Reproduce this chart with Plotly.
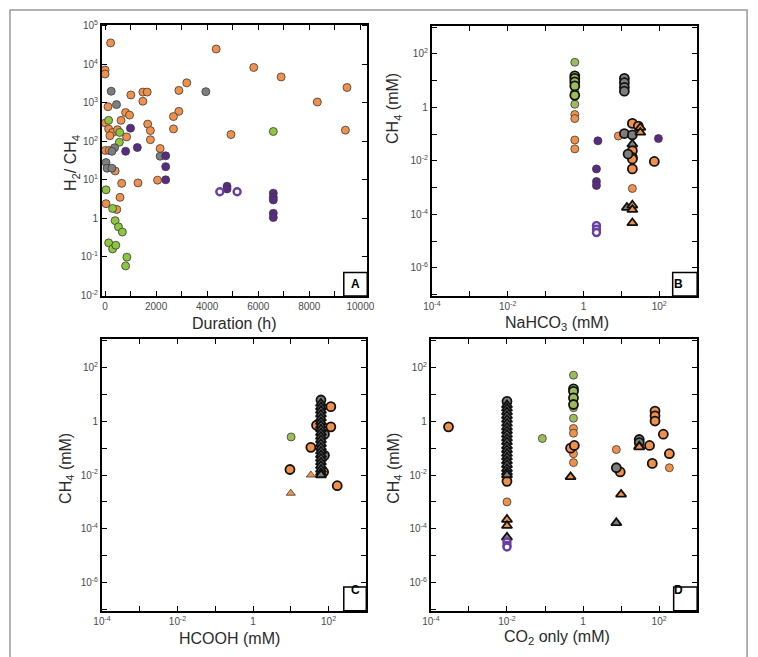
import plotly.graph_objects as go

W, H = 758, 657

# ---------------- DATA ----------------
# Panel A : H2/CH4 vs duration (h)
A_orange_x = [217, 0, 0, 115, 1010, 1480, 1650, 1480, 2890, 3200, 2890, 2680, 2680, 1670, 1775, 1775,
              805, 958, 625, 13, 141, 295, 487, 843, 190, 13, 166, 2157, 395, 651, 1290, 2056, 586,
              38, 460, 4352, 4931, 5824, 6897, 8314, 9475, 9413]
A_orange_y = [3.6e4, 7.1e3, 5.6e3, 7.9e2, 1.6e3, 1.9e3, 1.9e3, 1.1e3, 2.1e3, 3.3e3, 6.0e2, 4.4e2, 2.1e2, 2.8e2, 1.9e2, 1.1e2,
              5.6e2, 4.8e2, 3.5e2, 3.0e2, 2.1e2, 1.7e2, 2.0e2, 1.3e2, 1.4e2, 5.8e1, 5.8e1, 6.5e1, 1.7e1, 8.1, 8.3, 9.8, 3.5,
              2.4, 1.7, 2.5e4, 1.5e2, 8.3e3, 4.7e3, 1.05e3, 2.5e3, 1.95e2]
A_green_x = [140, 575, 560, 38, 295, 395, 525, 678, 141, 295, 421, 855, 805, 6590]
A_green_y = [3.5e2, 1.7e2, 9.5e1, 5.5, 1.8, 0.87, 0.60, 0.44, 0.23, 0.16, 0.20, 0.098, 0.058, 1.8e2]
A_gray_x = [241, 448, 372, 268, 38, 77, 268, 3946, 2157]
A_gray_y = [2.0e3, 9.0e2, 6.8e1, 5.5e1, 2.8e1, 2.0e1, 2.0e1, 1.95e3, 4.1e1]
A_purple_x = [996, 805, 1264, 2375, 2375, 2375, 4778, 4778, 6590, 6590, 6590, 6590, 6590]
A_purple_y = [2.2e2, 5.5e1, 6.9e1, 4.2e1, 2.2e1, 1.0e1, 6.8, 5.8, 4.5, 3.5, 3.0, 1.35, 1.05]
A_open_x = [4494, 5172]
A_open_y = [4.9, 4.9]

# Panel B : CH4 vs NaHCO3 (mM)
B_green_thin_x = [0.59, 0.59, 0.59]
B_green_thin_y = [48, 3.8, 1.3]
B_green_bold_x = [0.59, 0.59, 0.59, 0.59, 0.59]
B_green_bold_y = [15, 12, 8.9, 6.3, 2.8]
B_orange_thin_x = [0.59, 0.59, 0.59, 0.59, 8.3, 19.5]
B_orange_thin_y = [0.54, 0.38, 0.060, 0.028, 0.085, 9.3e-4]
B_purple_x = [2.4, 2.2, 2.2, 2.2, 95]
B_purple_y = [0.056, 5.0e-3, 1.7e-3, 1.2e-3, 0.068]
B_open_x = [2.2, 2.2, 2.2]
B_open_y = [3.8e-5, 2.8e-5, 2.1e-5]
B_gray_bold_x = [12, 12, 12, 12, 12, 19.5, 15]
B_gray_bold_y = [12, 8.3, 5.6, 4.0, 0.105, 0.093, 0.018]
B_gray_tri_x = [19.5, 14]
B_gray_tri_y = [0.042, 1.8e-4]
B_orange_bold_x = [19.5, 28, 19.5, 19.5, 19.5, 19.5, 74]
B_orange_bold_y = [0.25, 0.20, 0.024, 0.0135, 0.0117, 5.0e-3, 9.5e-3]
B_orange_tri_x = [31.6, 31.6, 19.5, 19.5, 19.5]
B_orange_tri_y = [0.174, 0.115, 2.2e-4, 1.5e-4, 4.8e-5]

# Panel C : CH4 vs HCOOH (mM)
C_green_x = [10.2]
C_green_y = [0.26]
C_orange_tri_x = [10, 34]
C_orange_tri_y = [2.1e-3, 0.010]
C_orange_bold_x = [9.5, 34, 48, 115, 115, 170, 74]
C_orange_bold_y = [0.016, 0.107, 0.71, 3.5, 0.62, 4.0e-3, 0.013]
C_gray_bold_x = [63, 78, 78]
C_gray_bold_y = [6.2, 0.33, 0.054]
C_gray_tri_x = [63, 63, 63, 63, 63, 63, 63, 63, 63, 63, 63, 63, 63, 63, 63, 63, 63, 63, 63, 63, 63]
C_gray_tri_y = [4.6, 3.4, 2.5, 1.8, 1.3, 0.95, 0.70, 0.51, 0.37, 0.27, 0.20, 0.145, 0.105, 0.077,
                0.056, 0.041, 0.030, 0.022, 0.016, 0.012, 0.010]

# Panel D : CH4 vs CO2 only (mM)
D_gray_bold_x = [0.01, 7.5, 30, 30]
D_gray_bold_y = [5.5, 0.0186, 0.21, 0.16]
D_gray_tri_x = [0.01, 0.01, 0.01, 0.01, 0.01, 0.01, 0.01, 0.01, 0.01, 0.01, 0.01, 0.01, 0.01, 0.01,
                0.01, 0.01, 0.01, 0.01, 0.01, 0.01, 0.01, 7.5, 30]
D_gray_tri_y = [4.0, 3.0, 2.2, 1.6, 1.15, 0.83, 0.60, 0.44, 0.32, 0.23, 0.17, 0.12, 0.087, 0.063,
                0.046, 0.033, 0.024, 0.017, 0.0126, 0.010, 4.8e-5, 1.66e-4, 0.117]
D_orange_bold_x = [2.9e-4, 0.01, 0.47, 0.59, 9.5, 56, 78, 78, 78, 129, 66, 186]
D_orange_bold_y = [0.62, 5.8e-3, 0.10, 0.126, 0.013, 0.126, 2.4, 1.6, 1.02, 0.33, 0.027, 0.062]
D_orange_thin_x = [0.01, 0.56, 0.56, 0.56, 0.56, 7.5, 186]
D_orange_thin_y = [1.0e-3, 0.54, 0.36, 0.062, 0.029, 0.089, 0.0186]
D_orange_tri_x = [0.01, 0.01, 0.47, 10, 30]
D_orange_tri_y = [2.2e-4, 1.3e-4, 8.5e-3, 1.9e-3, 0.11]
D_open_x = [0.01, 0.01, 0.01]
D_open_y = [3.2e-5, 2.4e-5, 2.1e-5]
D_green_thin_x = [0.085, 0.56, 0.56, 0.56]
D_green_thin_y = [0.23, 52, 3.2, 1.3]
D_green_bold_x = [0.56, 0.56, 0.56, 0.56]
D_green_bold_y = [16, 13, 7.4, 4.2]

# tick labels
A_xticks = [0, 2000, 4000, 6000, 8000, 10000]
A_xtext = ["0", "2000", "4000", "6000", "8000", "10000"]
A_xminor = [1000, 3000, 5000, 7000, 9000]
A_yticks = [1e-2, 1e-1, 1, 1e1, 1e2, 1e3, 1e4, 1e5]
A_ytext = ["10<sup>-2</sup>", "10<sup>-1</sup>", "1", "10<sup>1</sup>", "10<sup>2</sup>",
           "10<sup>3</sup>", "10<sup>4</sup>", "10<sup>5</sup>"]
L_xticks = [1e-4, 1e-2, 1, 1e2]
L_xtext = ["10<sup>-4</sup>", "10<sup>-2</sup>", "1", "10<sup>2</sup>"]
L_xminor = [1e-3, 1e-1, 1e1, 1e3]
L_yticks = [1e-6, 1e-4, 1e-2, 1, 1e2]
L_ytext = ["10<sup>-6</sup>", "10<sup>-4</sup>", "10<sup>-2</sup>", "1", "10<sup>2</sup>"]
L_yminor = [1e-7, 1e-5, 1e-3, 1e-1, 1e1, 1e3]

# ---------------- STYLE ----------------
ORANGE = "#F0914B"
GREEN_A = "#8CC63F"
GREEN = "#9CBB5C"
GRAY = "#7E7E7E"
PURPLE = "#5A2A86"
OPEN_LINE = "#6A3FA5"
FONT = "Liberation Sans, Arial, sans-serif"

fig = go.Figure()


def add(xs, ys, ax, color, symbol="circle", bold=False, size=8, open_=False):
    if open_:
        marker = dict(color="white", size=7, symbol="circle",
                      line=dict(color=OPEN_LINE, width=2.4))
    else:
        marker = dict(color=color, size=size + (1 if bold else 0), symbol=symbol,
                      line=dict(color="#111" if bold else "#3a3a3a", width=1.8 if bold else 0.8))
    fig.add_trace(go.Scatter(x=xs, y=ys, mode="markers", xaxis="x" + ax, yaxis="y" + ax,
                             marker=marker, showlegend=False, hoverinfo="skip"))


# Panel A
add(A_orange_x, A_orange_y, "", ORANGE)
add(A_green_x, A_green_y, "", GREEN_A)
add(A_gray_x, A_gray_y, "", GRAY)
add(A_purple_x, A_purple_y, "", PURPLE)
add(A_open_x, A_open_y, "", None, open_=True)

# Panel B
add(B_green_thin_x, B_green_thin_y, "2", GREEN)
add(B_green_bold_x, B_green_bold_y, "2", GREEN, bold=True)
add(B_orange_thin_x, B_orange_thin_y, "2", ORANGE)
add(B_purple_x, B_purple_y, "2", PURPLE)
add(B_open_x, B_open_y, "2", None, open_=True)
add(B_orange_bold_x, B_orange_bold_y, "2", ORANGE, bold=True)
add(B_gray_bold_x, B_gray_bold_y, "2", GRAY, bold=True)
add(B_gray_tri_x, B_gray_tri_y, "2", GRAY, symbol="triangle-up", bold=True)
add(B_orange_tri_x, B_orange_tri_y, "2", ORANGE, symbol="triangle-up", bold=True)

# Panel C
add(C_green_x, C_green_y, "3", GREEN)
add(C_orange_tri_x, C_orange_tri_y, "3", ORANGE, symbol="triangle-up")
add(C_orange_bold_x, C_orange_bold_y, "3", ORANGE, bold=True)
add(C_gray_bold_x, C_gray_bold_y, "3", GRAY, bold=True)
add(C_gray_tri_x, C_gray_tri_y, "3", GRAY, symbol="triangle-up", bold=True)

# Panel D
add(D_green_thin_x, D_green_thin_y, "4", GREEN)
add(D_green_bold_x, D_green_bold_y, "4", GREEN, bold=True)
add(D_orange_thin_x, D_orange_thin_y, "4", ORANGE)
add(D_orange_bold_x, D_orange_bold_y, "4", ORANGE, bold=True)
add(D_gray_bold_x, D_gray_bold_y, "4", GRAY, bold=True)
add(D_gray_tri_x, D_gray_tri_y, "4", GRAY, symbol="triangle-up", bold=True)
add(D_orange_tri_x, D_orange_tri_y, "4", ORANGE, symbol="triangle-up", bold=True)
add(D_open_x, D_open_y, "4", None, open_=True)


def px_dom_x(a, b):
    return [a / W, b / W]


def px_dom_y(top, bottom):
    return [1 - bottom / H, 1 - top / H]


common = dict(showline=True, linecolor="black", linewidth=2, mirror="ticks", ticks="inside",
              ticklen=5, tickwidth=1, tickcolor="black", showgrid=False, zeroline=False,
              tickfont=dict(family=FONT, size=10, color="#4a4a4a"), tickmode="array")


def minor(vals):
    return dict(tickmode="array", tickvals=vals, ticks="inside", ticklen=5, tickwidth=1,
                tickcolor="black", showgrid=False)


layout = dict(
    width=W, height=H, margin=dict(l=0, r=0, t=0, b=0),
    paper_bgcolor="white", plot_bgcolor="white",
    xaxis=dict(domain=px_dom_x(95, 366), range=[-120, 10270], anchor="y",
               tickvals=A_xticks, ticktext=A_xtext, minor=minor(A_xminor), **common),
    yaxis=dict(domain=px_dom_y(19, 295), type="log", range=[-2.02, 5.03], anchor="x",
               tickvals=A_yticks, ticktext=A_ytext, **common),
    xaxis2=dict(domain=px_dom_x(432, 703), type="log", range=[-4, 3], anchor="y2",
                tickvals=L_xticks, ticktext=L_xtext, minor=minor(L_xminor), **common),
    yaxis2=dict(domain=px_dom_y(20, 295), type="log", range=[-7.05, 3.05], anchor="x2",
                tickvals=L_yticks, ticktext=L_ytext, minor=minor(L_yminor), **common),
    xaxis3=dict(domain=px_dom_x(95, 365), type="log", range=[-4, 3], anchor="y3",
                tickvals=L_xticks, ticktext=L_xtext, minor=minor(L_xminor), **common),
    yaxis3=dict(domain=px_dom_y(339, 615), type="log", range=[-7.05, 3.05], anchor="x3",
                tickvals=L_yticks, ticktext=L_ytext, minor=minor(L_yminor), **common),
    xaxis4=dict(domain=px_dom_x(431, 703), type="log", range=[-4, 3], anchor="y4",
                tickvals=L_xticks, ticktext=L_xtext, minor=minor(L_xminor), **common),
    yaxis4=dict(domain=px_dom_y(339, 615), type="log", range=[-7.05, 3.05], anchor="x4",
                tickvals=L_yticks, ticktext=L_ytext, minor=minor(L_yminor), **common),
)
fig.update_layout(**layout)

shapes = [dict(type="rect", xref="paper", yref="paper", x0=1 / W, x1=754 / W, y0=-0.05, y1=1 - 4 / H,
               line=dict(color="#9a9a9a", width=1.5), fillcolor="rgba(0,0,0,0)", layer="below")]
annotations = []
letters = [("A", 342, 366, 271, 295), ("B", 678, 703, 271, 295),
           ("C", 342, 365, 591, 615), ("D", 679, 703, 591, 615)]
for t, x0, x1, y0, y1 in letters:
    shapes.append(dict(type="rect", xref="paper", yref="paper", x0=x0 / W, x1=x1 / W,
                       y0=1 - y1 / H, y1=1 - y0 / H, line=dict(color="black", width=1.5),
                       fillcolor="white", layer="above"))
    annotations.append(dict(text="<b>%s</b>" % t, x=(x0 + x1) / 2 / W, y=1 - (y0 + y1) / 2 / H,
                            xref="paper", yref="paper", showarrow=False,
                            font=dict(family=FONT, size=12, color="black")))

titles = [
    ("Duration (h)", 230, 323, 0),
    ("NaHCO<sub>3</sub> (mM)", 560, 323, 0),
    ("HCOOH (mM)", 225, 643, 0),
    ("CO<sub>2</sub> only (mM)", 560, 642, 0),
    ("H<sub>2</sub>/ CH<sub>4</sub>", 64, 160, -90),
    ("CH<sub>4</sub> (mM)", 393, 104, -90),
    ("CH<sub>4</sub> (mM)", 58, 470, -90),
    ("CH<sub>4</sub> (mM)", 393, 470, -90),
]
for t, x, y, ang in titles:
    annotations.append(dict(text=t, x=x / W, y=1 - y / H, xref="paper", yref="paper",
                            showarrow=False, textangle=ang, xanchor="center", yanchor="middle",
                            font=dict(family=FONT, size=16, color="#2a2a2a")))

fig.update_layout(shapes=shapes, annotations=annotations)
fig.write_html("out.html")
